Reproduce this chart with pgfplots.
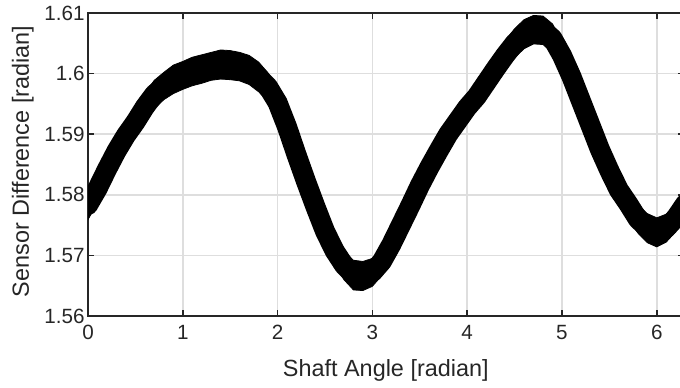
\documentclass[border=0pt]{standalone}
\usepackage{pgfplots}
\pgfplotsset{compat=1.18}
\usepackage{pgfplotstable}
\usepgfplotslibrary{fillbetween}
\usetikzlibrary{calc}
\usepackage{fontspec}
\setmainfont{Liberation Sans}
\definecolor{axgray}{RGB}{38,38,38}
\definecolor{gridgray}{RGB}{222,222,222}

\pgfplotstableread{
x    c       hi      lo
0.0  1.5783  1.5808  1.5759
0.1  1.5810  1.5833  1.5787
0.2  1.5842  1.5865  1.5818
0.3  1.5872  1.5896  1.5851
0.4  1.5898  1.5919  1.5875
0.5  1.5920  1.5944  1.5899
0.6  1.5945  1.5968  1.5922
0.7  1.5966  1.5989  1.5942
0.8  1.5979  1.6002  1.5957
0.9  1.5990  1.6014  1.5967
1.0  1.5997  1.6020  1.5974
1.1  1.6003  1.6027  1.5980
1.2  1.6008  1.6031  1.5984
1.3  1.6012  1.6035  1.5989
1.4  1.6015  1.6039  1.5991
1.5  1.6015  1.6038  1.5990
1.6  1.6012  1.6035  1.5988
1.7  1.6006  1.6030  1.5982
1.8  1.5994  1.6019  1.5970
1.9  1.5978  1.6001  1.5954
2.0  1.5952  1.5975  1.5929
2.1  1.5912  1.5935  1.5888
2.2  1.5866  1.5890  1.5843
2.3  1.5822  1.5845  1.5799
2.4  1.5780  1.5804  1.5757
2.5  1.5740  1.5763  1.5716
2.6  1.5708  1.5731  1.5685
2.7  1.5684  1.5707  1.5660
2.8  1.5668  1.5692  1.5643
2.9  1.5665  1.5690  1.5642
3.0  1.5672  1.5695  1.5649
3.1  1.5690  1.5713  1.5667
3.2  1.5718  1.5741  1.5695
3.3  1.5750  1.5773  1.5727
3.4  1.5782  1.5806  1.5759
3.5  1.5815  1.5838  1.5792
3.6  1.5845  1.5868  1.5821
3.7  1.5873  1.5896  1.5850
3.8  1.5900  1.5923  1.5877
3.9  1.5922  1.5945  1.5899
4.0  1.5944  1.5967  1.5921
4.1  1.5962  1.5985  1.5939
4.2  1.5985  1.6008  1.5962
4.3  1.6008  1.6031  1.5985
4.4  1.6030  1.6054  1.6007
4.5  1.6050  1.6074  1.6026
4.6  1.6065  1.6089  1.6041
4.7  1.6073  1.6096  1.6049
4.8  1.6072  1.6095  1.6048
4.9  1.6058  1.6082  1.6034
5.0  1.6030  1.6053  1.6007
5.1  1.5995  1.6018  1.5972
5.2  1.5955  1.5978  1.5932
5.3  1.5915  1.5938  1.5892
5.4  1.5875  1.5898  1.5852
5.5  1.5840  1.5863  1.5817
5.6  1.5808  1.5831  1.5785
5.7  1.5785  1.5808  1.5761
5.8  1.5760  1.5784  1.5737
5.9  1.5745  1.5769  1.5721
6.0  1.5738  1.5762  1.5714
6.1  1.5745  1.5768  1.5722
6.2  1.5762  1.5785  1.5739
6.3  1.5785  1.5808  1.5762
}\banddata

\begin{document}
\begin{tikzpicture}
\begin{axis}[
  name=ax,
  scale only axis,
  width=595.6bp, height=303bp,
  xmin=0, xmax=6.2832,
  ymin=1.56, ymax=1.61,
  xtick={0,1,2,3,4,5,6},
  ytick={1.56,1.57,1.58,1.59,1.6,1.61},
  yticklabels={1.56,1.57,1.58,1.59,1.6,1.61},
  /pgf/number format/assume math mode=true,
  tick align=inside,
  major tick length=6bp,
  axis line style={axgray, line width=1.6bp},
  tick style={axgray, line width=1.6bp},
  grid=major,
  major grid style={gridgray, line width=1.5bp},
  ticklabel style={font=\fontsize{20.7}{24}\selectfont, text=axgray},
  xticklabel style={yshift=-6bp},
  label style={font=\fontsize{23.5}{28}\selectfont, text=axgray},
  xlabel={Shaft Angle [radian]},
  ylabel={Sensor Difference [radian]},
  xlabel style={at={(axis description cs:0.5,-0.2013)}, anchor=base, inner sep=0pt},
  ylabel style={at={(axis description cs:-0.1283,0.51)}, anchor=north, inner sep=0pt},
]
\addplot[draw=none, name path=hi] table[x=x, y=hi] {\banddata};
\addplot[draw=none, name path=lo] table[x=x, y=lo] {\banddata};
\addplot[black, draw=black, line width=0.8bp] fill between[of=hi and lo];
\addplot[black, line width=20bp, line join=round, line cap=round] table[x=x, y=c] {\banddata};
\end{axis}
\pgfresetboundingbox
\path[use as bounding box] ($(ax.south west)+(-88bp,-72bp)$) rectangle ++(680bp,388bp);
\end{tikzpicture}
\end{document}
